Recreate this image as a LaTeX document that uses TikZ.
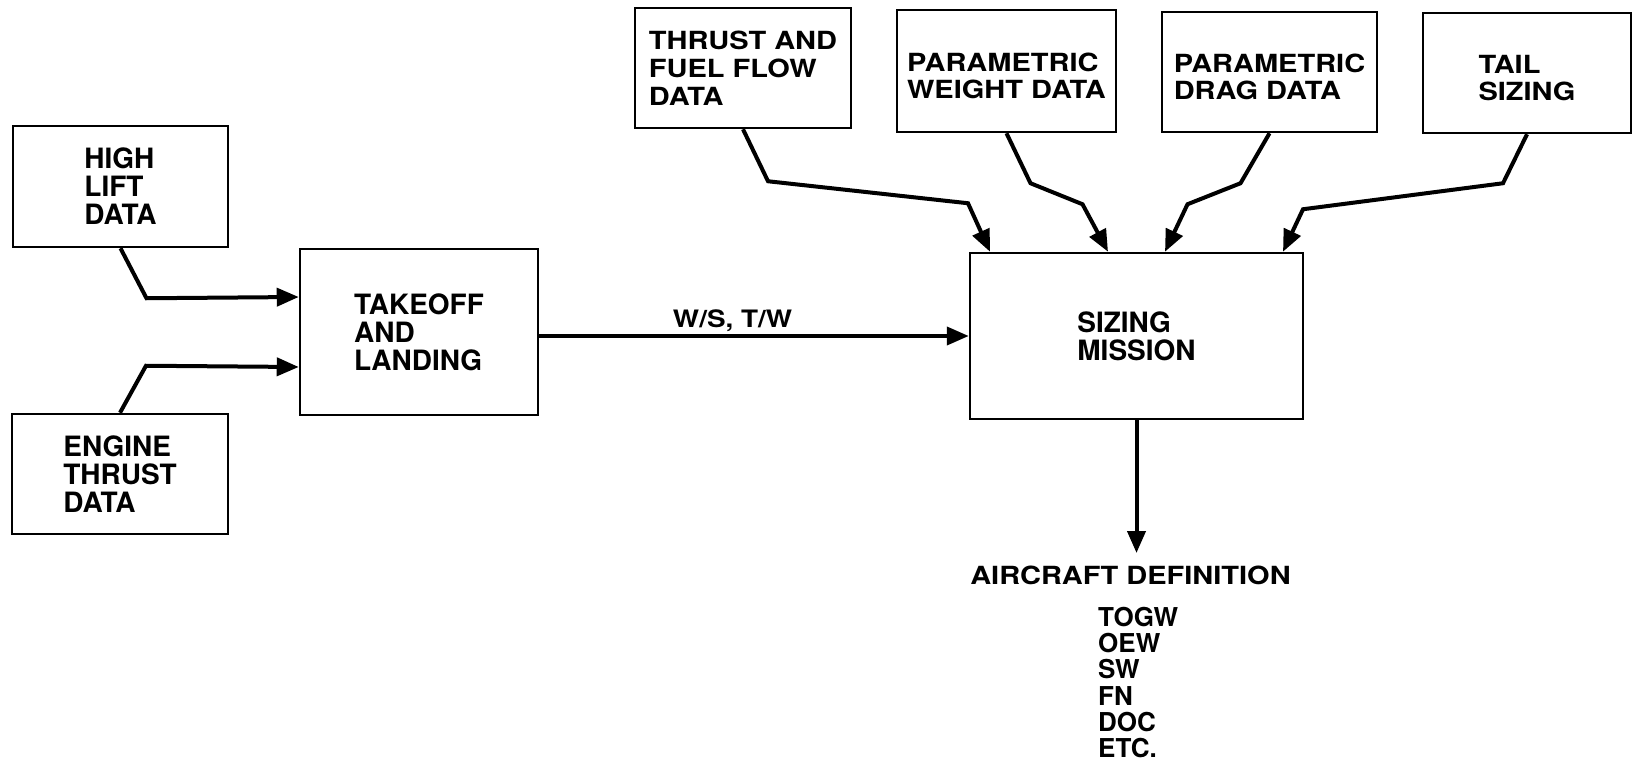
\documentclass[tikz,border=0pt]{standalone}
\usepackage{fontspec}
\setmainfont{TeX Gyre Heros}
\newfontfamily\widefont[FakeStretch=1.16]{TeX Gyre Heros}
\usetikzlibrary{arrows.meta,positioning}

\tikzset{
  databox/.style={draw, line width=2.5pt, inner sep=0pt, align=left,
    font=\bfseries\fontsize{28}{28}\selectfont},
  inputbox/.style={draw, line width=2.5pt, inner sep=0pt, align=left,
    font=\widefont\bfseries\fontsize{25}{27}\selectfont},
  outtext/.style={inner sep=0pt, font=\widefont\bfseries\fontsize{25}{25}\selectfont},
  listtext/.style={inner sep=0pt, align=left, font=\bfseries\fontsize{26}{26.2}\selectfont},
  flow/.style={line width=4pt, -{Triangle[length=22pt,width=18pt]}},
}

\begin{document}
\begin{tikzpicture}[x=1pt, y=-1pt]
    \useasboundingbox (0,0) rectangle (1632,775);

    % left side
    \node[databox, minimum width=215pt, minimum height=121pt] (highlift) at (120.5,186.5) {HIGH\\LIFT\\DATA};
    \node[databox, minimum width=216pt, minimum height=120pt] (engine) at (120,474) {ENGINE\\THRUST\\DATA};
    \node[databox, minimum width=238pt, minimum height=166pt] (takeoff) at (419,332) {TAKEOFF\\AND\\LANDING};
    \node[databox, minimum width=333pt, minimum height=166pt] (sizing) at (1136.5,336) {SIZING\\MISSION};

    % data along the top
    \node[inputbox, font=\widefont\bfseries\fontsize{25}{28}\selectfont,
          minimum width=216pt, minimum height=120pt] (thrust) at (743,68) {THRUST AND\\FUEL FLOW\\DATA};
    \node[inputbox, minimum width=219pt, minimum height=122pt] (weight) at (1006.5,71) {\rule{0pt}{28pt}PARAMETRIC\\WEIGHT DATA};
    \node[inputbox, minimum width=215pt, minimum height=120pt] (drag) at (1269.5,72) {\rule{0pt}{28pt}PARAMETRIC\\DRAG DATA};
    \node[inputbox, minimum width=208pt, minimum height=120pt] (tail) at (1527,73) {\rule{0pt}{28pt}TAIL\\SIZING};

    \draw[flow] (highlift.south) -- ++(26,50) -- ([yshift=35pt]takeoff.west);
    \draw[flow] (engine.north) -- ++(26,-47) -- ([yshift=-35pt]takeoff.west);

    \draw[flow] (thrust.south) -- ++(25,52) -- ++(200,22) -- ([xshift=-146.5pt]sizing.north);
    \draw[flow] (weight.south) -- ++(24,50) -- ++(52,21) -- ([xshift=-28.5pt]sizing.north);
    \draw[flow] (drag.south) -- ++(-29,50) -- ++(-53,21) -- ([xshift=28.5pt]sizing.north);
    \draw[flow] (tail.south) -- ++(-24,49) -- ++(-200,26) -- ([xshift=146.5pt]sizing.north);

    \draw[flow] (takeoff.east |- sizing.west) -- (sizing.west)
        node[pos=0.45, above=2pt, inner sep=0pt, font=\widefont\bfseries\fontsize{24}{24}\selectfont] (wslabel) {W/S, T/W};

    % output
    \node[outtext, below=146pt of sizing, xshift=-6pt] (outdef) {AIRCRAFT DEFINITION};
    \node[listtext, anchor=north west] (outlist) at (1098,607) {TOGW\\OEW\\SW\\FN\\DOC\\ETC.};
    \draw[flow] (sizing) -- (sizing.south |- 0,553);
\end{tikzpicture}
\end{document}
